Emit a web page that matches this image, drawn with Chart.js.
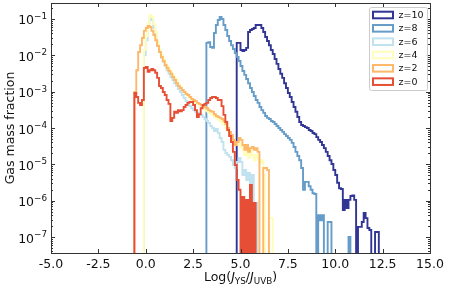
<!DOCTYPE html>
<html>
<head>
<meta charset="utf-8">
<script src="https://cdn.jsdelivr.net/npm/chart.js@4.4.0/dist/chart.umd.min.js"></script>
<style>
  html, body { margin: 0; padding: 0; background: #fff; }
  #wrap { width: 449px; height: 288px; }
</style>
</head>
<body>
<div id="wrap"><canvas id="histChart" width="449" height="288"></canvas></div>
<script>
// step histograms of Log(J_YS/J_UVB), bins 0.1 wide
const binWidth = 0.1;
const below = 1e-9; // empty bin, falls under the axis floor

const seriesLabels = ['z=10', 'z=8', 'z=6', 'z=4', 'z=2', 'z=0'];
const seriesColors = ['#313695', '#669cc8', '#c0e3ef', '#fffdba', '#fdb86a', '#e64f35'];
const seriesStart = [4.8, 3.2, -0.1, -0.1, -0.6, -0.6];

const z10 = [0.019, 0.022, 0.022, 0.014, 0.0131, 0.014, 0.016, 0.044, 0.050, 0.053,
  0.0565, 0.068, 0.068, 0.068, 0.0565, 0.044, 0.032, 0.0248, 0.019, 0.014,
  0.0109, 0.0079, 0.0058, 0.0042, 0.0031, 0.0024, 0.0017, 0.00126, 0.00092, 0.00071,
  5.2e-4, 3.8e-4, 2.8e-4, 2.0e-4, 1.46e-4, 1.21e-4, 1.14e-4, 1.06e-4, 1.0e-4, 8.8e-5,
  8.3e-5, 7.3e-5, 6.8e-5, 5.6e-5, 4.7e-5, 4.1e-5, 3.4e-5, 2.8e-5, 2.2e-5, 1.7e-5,
  1.3e-5, 1.02e-5, 7.0e-6, 5.1e-6, 3.1e-6, 2.2e-6, 2.1e-6, 5.5e-7, 1.05e-6, 6.3e-7,
  1.05e-6, 1.34e-6, 1.4e-6, 1.05e-6, below, 1.9e-7, 1.9e-7, 2.6e-7, 4.6e-7, 3.3e-7,
  1.77e-7, 1.56e-7, below, below, 1.37e-7, 1.37e-7];

const z8 = [0.0048, 0.022, 0.023, 0.0169, 0.016, 0.041, 0.068, 0.094, 0.113, 0.10,
  0.068, 0.050, 0.034, 0.0248, 0.019, 0.0149, 0.0116, 0.0090, 0.0070, 0.0051,
  0.0037, 0.0029, 0.00223, 0.0017, 0.00126, 0.00098, 0.00076, 0.00059, 0.00049, 0.00038,
  3.1e-4, 2.6e-4, 2.14e-4, 1.9e-4, 1.77e-4, 1.56e-4, 1.46e-4, 1.29e-4, 1.14e-4, 1.0e-4,
  8.8e-5, 7.8e-5, 6.8e-5, 6.0e-5, 5.3e-5, 4.7e-5, 3.9e-5, 3.0e-5, 2.2e-5, 1.7e-5,
  1.3e-5, 7.9e-6, 2.0e-6, 3.3e-6, 3.3e-6, 2.5e-6, 2.0e-6, 1.6e-6, 1.52e-6, below,
  4.0e-7, 2.9e-7, 4.0e-7, below, below, 2.6e-7, 2.6e-7, below, below, below,
  below, below, below, below, below, below, 1.0e-7];

const z6 = [0.0021, 0.0102, 0.026, 0.060, 0.107, 0.094, 0.0565, 0.034, 0.019, 0.0124,
  0.0085, 0.0066, 0.0051, 0.0039, 0.0031, 0.00254, 0.0021, 0.0017, 0.00143, 0.00118,
  0.00098, 0.00081, 0.00067, 0.00055, 0.00046, 0.0004, 0.00035, 0.00031, 0.00028, 0.00026,
  2.4e-4, 2.3e-4, 2.0e-4, 1.77e-4, 1.56e-4, 1.37e-4, 1.14e-4, 1.0e-4, 8.3e-5, 9.4e-5,
  7.3e-5, 5.3e-5, 4.1e-5, 2.5e-5, 2.05e-5, 1.8e-5, 1.6e-5, 1.3e-5, 9.6e-6, 7.9e-6,
  1.16e-5, 1.5e-5, 1.16e-5, 5.1e-6, 7.0e-6, 3.7e-6, 5.8e-6, below, 5.1e-6, below,
  8.6e-7];

const z4 = [0.0029, 0.014, 0.034, 0.0728, 0.129, 0.113, 0.0728, 0.044, 0.023, 0.014,
  0.0102, 0.0079, 0.0062, 0.0051, 0.0042, 0.0035, 0.0029, 0.0024, 0.0021, 0.00163,
  0.00134, 0.00111, 0.00098, 0.00086, 0.00076, 0.00067, 0.00059, 0.00055, 0.00049, 0.00046,
  4.3e-4, 3.8e-4, 3.5e-4, 3.1e-4, 2.9e-4, 2.6e-4, 2.4e-4, 2.3e-4, 2.0e-4, 1.9e-4,
  1.7e-4, 1.56e-4, 1.37e-4, 1.21e-4, 1.0e-4, 8.3e-5, 6.8e-5, 5.6e-5, 4.7e-5, 4.1e-5,
  3.4e-5, 3.9e-5, 3.0e-5, 2.5e-5, 1.8e-5, 2.2e-5, 1.5e-5, 2.5e-5, 1.8e-5, 1.3e-5,
  1.8e-5, 1.5e-5, 1.1e-5, 1.3e-5, 5.1e-6, below, below, 3.3e-7, 3.3e-7];

const z2 = [0.00092, 0.00098, 0.0039, 0.0124, 0.019, 0.030, 0.047, 0.0565, 0.064, 0.060,
  0.047, 0.036, 0.026, 0.018, 0.0124, 0.0090, 0.0070, 0.0054, 0.0045, 0.0037,
  0.0031, 0.00254, 0.0021, 0.0017, 0.00143, 0.00126, 0.00111, 0.00098, 0.00086, 0.00081,
  7.1e-4, 6.3e-4, 5.9e-4, 5.5e-4, 4.9e-4, 4.6e-4, 4.3e-4, 4.0e-4, 3.8e-4, 3.5e-4,
  3.1e-4, 2.9e-4, 2.8e-4, 2.4e-4, 2.14e-4, 2.0e-4, 1.9e-4, 1.77e-4, 1.56e-4, 1.29e-4,
  1.0e-4, 7.8e-5, 6.4e-5, 4.7e-5, 3.4e-5, 4.1e-5, 5.3e-5, 4.7e-5, 3.4e-5, 2.5e-5,
  3.4e-5, 2.2e-5, 2.8e-5, 3.0e-5, 2.5e-5, 2.8e-5, 2.2e-5, below, below, 7.9e-6,
  7.9e-6, 7.0e-6];

const z0 = [9.2e-4, 9.2e-4, 7.1e-4, 4.9e-4, 4.3e-4, 5.9e-4,
  4.5e-3, 4.8e-3, 3.5e-3, 3.9e-3, 4.2e-3, 3.9e-3, 3.3e-3, 2.4e-3, 1.43e-3, 1.26e-3,
  9.8e-4, 8.1e-4, 5.9e-4, 4.6e-4, 1.56e-4, 1.9e-4, 2.8e-4, 2.6e-4, 3.1e-4, 2.9e-4,
  3.1e-4, 3.8e-4, 4.3e-4, 4.9e-4, 5.2e-4, 5.2e-4, 4.3e-4, 3.1e-4, 2.0e-4, 2.4e-4,
  3.5e-4, 4.3e-4, 4.6e-4, 4.9e-4, 5.9e-4, 6.7e-4, 7.1e-4, 7.1e-4, 6.7e-4, 5.9e-4,
  5.9e-4, 4.0e-4, 2.3e-4, 1.46e-4, 8.8e-5, 6.0e-5, 4.1e-5, 2.2e-5, 9.6e-6, 3.7e-6,
  2.0e-6, below, 1.26e-6, below, 1.05e-6, below, 2.7e-6, below, 8.6e-7];

const seriesValues = [z10, z8, z6, z4, z2, z0];

const xTicks = [-5, -2.5, 0, 2.5, 5, 7.5, 10, 12.5, 15];
const yTicks = [1e-7, 1e-6, 1e-5, 1e-4, 1e-3, 1e-2, 1e-1];
const yTickExponents = ['\u22127', '\u22126', '\u22125', '\u22124', '\u22123', '\u22122', '\u22121'];

const xMin = -5, xMax = 15;
const yMin = Math.pow(10, -7.44), yMax = Math.pow(10, -0.56);

const fontFamily = "'DejaVu Sans', sans-serif";
Chart.defaults.font.family = fontFamily;
Chart.defaults.color = '#111';

// bin edges -> points for a stepped line that opens and closes at the floor
function histPoints(start, vals) {
  const pts = [{ x: start, y: below }];
  vals.forEach((v, i) => pts.push({ x: +(start + i * binWidth).toFixed(2), y: v }));
  pts.push({ x: +(start + vals.length * binWidth).toFixed(2), y: below });
  return pts;
}

const datasets = seriesLabels.map((label, i) => ({
  label: label,
  data: histPoints(seriesStart[i], seriesValues[i]),
  borderColor: seriesColors[i],
  borderWidth: 1.9,
  stepped: 'after',
  pointRadius: 0,
  fill: false,
  order: seriesLabels.length - i  // z=0 ends up on top
}));

const axesDecor = {
  id: 'axesDecor',
  afterDraw(chart) {
    const { ctx, chartArea: a, scales: { x, y } } = chart;
    ctx.save();

    // frame
    ctx.strokeStyle = '#333';
    ctx.lineWidth = 1;
    ctx.strokeRect(a.left + 0.5, a.top + 0.5, a.right - a.left, a.bottom - a.top);

    // inward ticks
    ctx.beginPath();
    xTicks.forEach(v => {
      const px = Math.round(x.getPixelForValue(v)) + 0.5;
      ctx.moveTo(px, a.bottom); ctx.lineTo(px, a.bottom - 4);
      ctx.moveTo(px, a.top); ctx.lineTo(px, a.top + 4);
    });
    yTicks.forEach(v => {
      const py = Math.round(y.getPixelForValue(v)) + 0.5;
      ctx.moveTo(a.left, py); ctx.lineTo(a.left + 4, py);
      ctx.moveTo(a.right, py); ctx.lineTo(a.right - 4, py);
    });
    for (let e = -8; e <= 0; e++) {
      for (let m = 2; m <= 9; m++) {
        const v = m * Math.pow(10, e);
        if (v < yMin || v > yMax) continue;
        const py = Math.round(y.getPixelForValue(v)) + 0.5;
        ctx.moveTo(a.left, py); ctx.lineTo(a.left + 2, py);
        ctx.moveTo(a.right, py); ctx.lineTo(a.right - 2, py);
      }
    }
    ctx.stroke();

    // y tick labels, 10 with a raised exponent
    ctx.fillStyle = '#111';
    ctx.textAlign = 'left';
    ctx.textBaseline = 'alphabetic';
    yTicks.forEach((v, i) => {
      const py = y.getPixelForValue(v);
      ctx.font = '8.8px ' + fontFamily;
      const ew = ctx.measureText(yTickExponents[i]).width;
      ctx.font = '12.5px ' + fontFamily;
      const bw = ctx.measureText('10').width;
      const right = a.left - 4;
      ctx.fillText('10', right - ew - bw, py + 5.5);
      ctx.font = '8.8px ' + fontFamily;
      ctx.fillText(yTickExponents[i], right - ew, py);
    });

    // y title
    ctx.save();
    ctx.translate(10.5, (a.top + a.bottom) / 2);
    ctx.rotate(-Math.PI / 2);
    ctx.font = '12.5px ' + fontFamily;
    ctx.textAlign = 'center';
    ctx.textBaseline = 'middle';
    ctx.fillText('Gas mass fraction', 0, 0);
    ctx.restore();

    // x title: Log(J_YS/J_UVB)
    const parts = [
      { t: 'Log(', f: '12.5px ' + fontFamily, dy: 0 },
      { t: 'J', f: 'italic 12.5px ' + fontFamily, dy: 0 },
      { t: 'YS', f: '8.8px ' + fontFamily, dy: 2.5 },
      { t: '/', f: '12.5px ' + fontFamily, dy: 0 },
      { t: 'J', f: 'italic 12.5px ' + fontFamily, dy: 0 },
      { t: 'UVB', f: '8.8px ' + fontFamily, dy: 2.5 },
      { t: ')', f: '12.5px ' + fontFamily, dy: 0 }
    ];
    let total = 0;
    parts.forEach(p => { ctx.font = p.f; p.w = ctx.measureText(p.t).width; total += p.w; });
    let cx = (a.left + a.right) / 2 - total / 2;
    const base = a.bottom + 28;
    ctx.textAlign = 'left';
    ctx.textBaseline = 'alphabetic';
    parts.forEach(p => { ctx.font = p.f; ctx.fillText(p.t, cx, base + p.dy); cx += p.w; });

    // legend box
    const lw = 58, lh = 83;
    const lx = a.right - 3 - lw, ly = a.top + 4;
    ctx.beginPath();
    ctx.roundRect(lx + 0.5, ly + 0.5, lw, lh, 2);
    ctx.fillStyle = 'rgba(255,255,255,0.85)';
    ctx.fill();
    ctx.strokeStyle = '#cccccc';
    ctx.lineWidth = 1;
    ctx.stroke();
    ctx.font = '9.5px ' + fontFamily;
    ctx.textBaseline = 'middle';
    seriesLabels.forEach((label, i) => {
      const cy = ly + 8 + i * 13.33;
      ctx.fillStyle = '#fff';
      ctx.fillRect(lx + 4, cy - 3.3, 20, 6.6);
      ctx.strokeStyle = seriesColors[i];
      ctx.lineWidth = 2;
      ctx.strokeRect(lx + 4, cy - 3.3, 20, 6.6);
      ctx.fillStyle = '#111';
      ctx.fillText(label, lx + 29.5, cy + 0.5);
    });

    ctx.restore();
  }
};

new Chart(document.getElementById('histChart'), {
  type: 'line',
  data: { datasets: datasets },
  plugins: [axesDecor],
  options: {
    responsive: false,
    animation: false,
    devicePixelRatio: 1,
    events: [],
    layout: { padding: { top: 3, right: 19, left: 0, bottom: 0 } },
    plugins: { legend: { display: false }, tooltip: { enabled: false } },
    scales: {
      x: {
        type: 'linear',
        min: xMin,
        max: xMax,
        grid: { display: false, drawTicks: false },
        border: { display: false },
        afterBuildTicks: (scale) => { scale.ticks = xTicks.map(v => ({ value: v })); },
        afterFit: (scale) => {
          scale.height = 35;
          scale.paddingLeft = 0; scale.paddingRight = 0;
        },
        ticks: {
          autoSkip: false,
          maxRotation: 0,
          padding: 4,
          font: { size: 12.5 },
          callback: (value) => value.toFixed(1)
        }
      },
      y: {
        type: 'logarithmic',
        min: yMin,
        max: yMax,
        grid: { display: false, drawTicks: false },
        border: { display: false },
        afterBuildTicks: (scale) => { scale.ticks = yTicks.map(v => ({ value: v })); },
        afterFit: (scale) => {
          scale.width = 51;
          scale.paddingTop = 0; scale.paddingBottom = 0;
        },
        ticks: { display: false }
      }
    }
  }
});
</script>
</body>
</html>
